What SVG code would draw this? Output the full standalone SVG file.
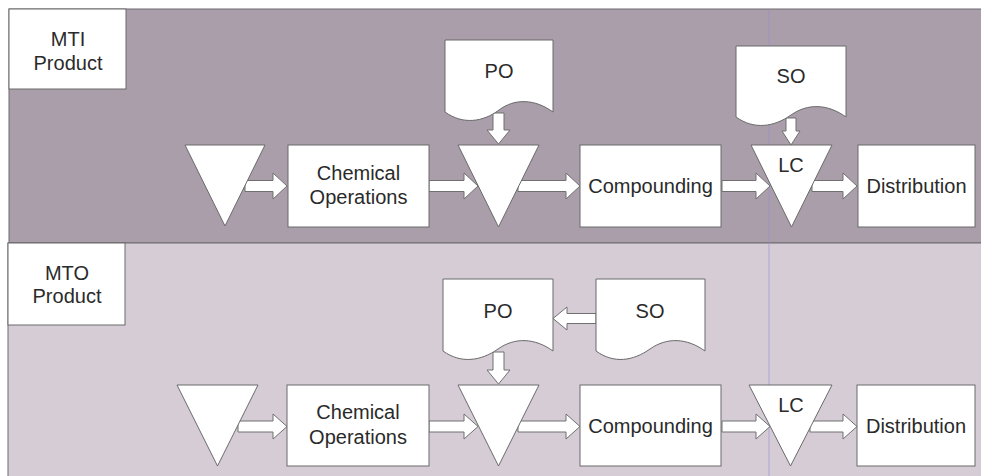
<svg xmlns="http://www.w3.org/2000/svg" width="981" height="476" viewBox="0 0 981 476">
<style>
.box{fill:#fff;stroke:#6a6a6a;stroke-width:1}
.arr{fill:#fff;stroke:#707070;stroke-width:1;stroke-linejoin:miter}
text{font-family:"Liberation Sans",Arial,sans-serif;font-size:20px;fill:#2a2a2a;text-anchor:middle}
</style>
<rect x="0" y="0" width="981" height="476" fill="#ffffff"/>
<rect id="laneMTI" x="9" y="9" width="973" height="234" fill="#a99ea9" stroke="#6f6a70" stroke-width="1"/>
<rect id="laneMTO" x="8" y="243" width="974" height="234" fill="#d5ccd6" stroke="#6f6a70" stroke-width="1"/>
<line x1="769" y1="10" x2="769" y2="476" stroke="#9a8fd0" stroke-width="1" opacity="0.6"/>

<g id="connectors">
<path class="arr" d="M245,180.5 H273 V173 L287,186 L273,199 V191.5 H245 Z"/>
<path class="arr" d="M429,180.5 H464 V173 L478,186 L464,199 V191.5 H429 Z"/>
<path class="arr" d="M518,180.5 H566 V173 L580,186 L566,199 V191.5 H518 Z"/>
<path class="arr" d="M722,180.5 H756 V173 L770,186 L756,199 V191.5 H722 Z"/>
<path class="arr" d="M812,180.5 H843 V173 L857,186 L843,199 V191.5 H812 Z"/>
<path class="arr" d="M493,113 V130 H487 L498.5,144 L510,130 H504 V113 Z"/>
<path class="arr" d="M786,118 V131 H782 L791,145 L800,131 H796 V118 Z"/>

<path class="arr" d="M238,421 H273 V414 L287,426.5 L273,439 V432 H238 Z"/>
<path class="arr" d="M429,421 H464 V414 L478,426.5 L464,439 V432 H429 Z"/>
<path class="arr" d="M518,421 H566 V414 L580,426.5 L566,439 V432 H518 Z"/>
<path class="arr" d="M722,421 H756 V414 L770,426.5 L756,439 V432 H722 Z"/>
<path class="arr" d="M810,421 H843 V414 L857,426.5 L843,439 V432 H810 Z"/>
<path class="arr" d="M493,352 V370 H487 L498.5,384 L510,370 H504 V352 Z"/>
<path class="arr" d="M596,313.5 H567 V307 L553,318.5 L567,330 V323.5 H596 Z"/>
</g>

<g id="mti-label"><rect class="box" x="9" y="9" width="117" height="80"/><text x="68" y="46">MTI</text><text x="68" y="70">Product</text></g>
<g id="mti-inv1"><polygon class="box" points="185,145 265,145 225,226"/></g>
<g id="mti-chem"><rect class="box" x="288" y="145" width="141" height="82"/><text x="358.5" y="179.5">Chemical</text><text x="358.5" y="204">Operations</text></g>
<g id="mti-inv2"><polygon class="box" points="458,145 539,145 498.5,227"/></g>
<g id="mti-po"><path class="box" d="M445,112 V40 H553 V112 C535,99 515,98 499,110 C483,122 463,125 445,112 Z"/><text x="499" y="78">PO</text></g>
<g id="mti-comp"><rect class="box" x="580" y="145" width="141" height="82"/><text x="650.5" y="192.5">Compounding</text></g>
<g id="mti-lc"><polygon class="box" points="751,145 832,145 791.5,227"/><text x="791" y="172">LC</text></g>
<g id="mti-so"><path class="box" d="M736,117 V46 H846 V117 C828,104 808,103 791,115 C774,127 754,130 736,117 Z"/><text x="791" y="83">SO</text></g>
<g id="mti-dist"><rect class="box" x="858" y="145" width="117" height="82"/><text x="916.5" y="192.5">Distribution</text></g>

<g id="mto-label"><rect class="box" x="8" y="243" width="117" height="82"/><text x="67" y="279.5">MTO</text><text x="67" y="303">Product</text></g>
<g id="mto-inv1"><polygon class="box" points="177,385 258,385 217.5,466"/></g>
<g id="mto-chem"><rect class="box" x="287" y="385" width="142" height="81"/><text x="358" y="419">Chemical</text><text x="358" y="444">Operations</text></g>
<g id="mto-inv2"><polygon class="box" points="458,385 539,385 498.5,466"/></g>
<g id="mto-po"><path class="box" d="M443,351 V279 H553 V351 C535,338 515,337 498,349 C481,361 461,364 443,351 Z"/><text x="498" y="318">PO</text></g>
<g id="mto-so"><path class="box" d="M596,351 V279 H705 V351 C687,338 667,337 650,349 C633,361 614,364 596,351 Z"/><text x="650" y="318">SO</text></g>
<g id="mto-comp"><rect class="box" x="580" y="385" width="141" height="81"/><text x="650.5" y="433">Compounding</text></g>
<g id="mto-lc"><polygon class="box" points="749,385 832,385 790.5,466"/><text x="791" y="412">LC</text></g>
<g id="mto-dist"><rect class="box" x="857" y="385" width="118" height="81"/><text x="916" y="433">Distribution</text></g>
</svg>
